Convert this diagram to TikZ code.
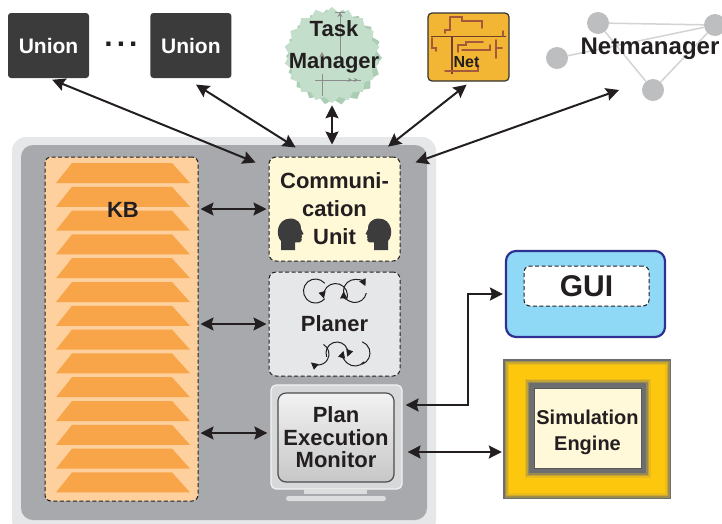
\documentclass[tikz,border=0pt]{standalone}
\usepackage{fontspec}
\setmainfont{Liberation Sans}
\usepackage{xcolor}
\usepackage{tikz}
\usetikzlibrary{shapes.geometric, arrows.meta, positioning, fit, backgrounds}

\definecolor{ink}{HTML}{231F20}
\definecolor{uniongray}{HTML}{3B3B3C}
\definecolor{rimgray}{HTML}{E6E7E8}
\definecolor{framegray}{HTML}{A7A9AC}
\definecolor{kbfill}{HTML}{FDD09D}
\definecolor{kbstripe}{HTML}{F8A549}
\definecolor{commfill}{HTML}{FFF9D8}
\definecolor{planfill}{HTML}{E6E7E8}
\definecolor{headgray}{HTML}{3C3C3C}
\definecolor{bezelgray}{HTML}{D7D8DA}
\definecolor{standgray}{HTML}{DCDDDF}
\definecolor{tasklight}{HTML}{C3DFCB}
\definecolor{taskdark}{HTML}{AACDB4}
\definecolor{netgold}{HTML}{F2B634}
\definecolor{netwire}{HTML}{A25A3A}
\definecolor{netnode}{HTML}{BCBEC0}
\definecolor{netline}{HTML}{D1D3D4}
\definecolor{guiblue}{HTML}{8FD8F6}
\definecolor{guiedge}{HTML}{2E3192}
\definecolor{simgold}{HTML}{FDC70E}
\definecolor{simedge}{HTML}{6D6E70}
\definecolor{simcream}{HTML}{FFF9DA}

\tikzstyle{union} = [rectangle, rounded corners=3pt, minimum width=81pt, minimum height=65pt, fill=uniongray, text=white, font=\bfseries\fontsize{21}{25}\selectfont]
\tikzstyle{bigtext} = [inner sep=0pt, align=center, text=ink, font=\bfseries\fontsize{22}{28}\selectfont]
\tikzstyle{module} = [rectangle, rounded corners=7pt, draw=ink, dash pattern=on 4pt off 2.5pt, line width=1pt, minimum width=131pt, minimum height=104pt, align=center, text=ink, font=\bfseries\fontsize{22}{28}\selectfont]
\tikzstyle{kbbox} = [rectangle, rounded corners=6pt, draw=ink, dash pattern=on 4pt off 2.5pt, line width=1pt, fill=kbfill, minimum width=153pt, minimum height=344pt]
\tikzstyle{bezel} = [rectangle, rounded corners=5pt, draw=white!70!bezelgray, line width=1.2pt, fill=bezelgray, minimum width=131pt, minimum height=104pt]
\tikzstyle{screen} = [rectangle, rounded corners=8pt, draw=black!70, line width=1.2pt, top color=white!95!black, bottom color=black!22, minimum width=116pt, minimum height=89pt, align=center, text=ink, font=\bfseries\fontsize{22}{22.5}\selectfont]
\tikzstyle{starburst} = [star, star points=18, star point ratio=1.13, minimum size=96pt, inner sep=0pt]
\tikzstyle{netbox} = [rectangle, rounded corners=4pt, draw=black!80, line width=1.2pt, fill=netgold, minimum width=81pt, minimum height=68pt]
\tikzstyle{netdot} = [circle, fill=netnode, minimum size=22pt, inner sep=0pt]
\tikzstyle{netlink} = [line width=1.5pt, draw=netline]
\tikzstyle{trace} = [line width=1.8pt, draw=netwire, line cap=round]
\tikzstyle{faintline} = [line width=0.7pt, draw=black!45]
\tikzstyle{guibox} = [rectangle, rounded corners=10pt, draw=guiedge, line width=2.2pt, fill=guiblue, minimum width=159pt, minimum height=86pt]
\tikzstyle{guitag} = [rectangle, rounded corners=6pt, draw=ink, dash pattern=on 4pt off 2.5pt, line width=1pt, fill=white, minimum width=125pt, minimum height=40pt, text=ink, font=\bfseries\fontsize{30}{34}\selectfont]
\tikzstyle{simbox} = [rectangle, fill=simedge, minimum width=168pt, minimum height=140pt]
\tikzstyle{simcore} = [rectangle, draw=black!65, line width=0.8pt, fill=simcream, minimum width=107pt, minimum height=80pt]
\tikzstyle{loopline} = [line width=1pt, draw=ink]
\tikzstyle{looptip} = [loopline, -{Triangle[length=7pt,width=7pt]}]
\tikzstyle{arrow} = [line width=2pt, draw=ink, {Stealth[length=13pt,width=13pt,inset=2pt]}-{Stealth[length=13pt,width=13pt,inset=2pt]}]

\tikzset{profile/.pic={
  \fill[headgray] (-9,-16) -- (-9,-7) .. controls (-15,-1) and (-13,15) .. (0,15.5)
    .. controls (8,15.5) and (11.5,10) .. (11,5) -- (13.5,0) -- (11.5,-1) -- (12,-3)
    -- (11.3,-4.2) -- (11.8,-5.6) .. controls (11.5,-8.5) and (8,-9) .. (5,-8.5) -- (5,-16) -- cycle;
}}

\begin{document}
\begin{tikzpicture}[x=1pt, y=1pt]
\useasboundingbox (0,0) rectangle (722,-523);

% Agent frame
\fill[rimgray, rounded corners=14pt] (12,-137) rectangle (436,-534);
\fill[framegray, rounded corners=12pt] (21,-145) rectangle (427,-520);

% Knowledge base
\node (kb) [kbbox] at (121.5,-329) {};
\foreach \i in {0,...,13}
  \fill[kbstripe] (56,{-183-23.8*\i}) -- (190,{-183-23.8*\i}) -- (172,{-163-23.8*\i}) -- (72,{-163-23.8*\i}) -- cycle;
\node (kbname) [bigtext] at (123,-210) {KB};

% Communication unit
\node (comm) [module, fill=commfill] at (334.5,-209) {Communi-\\cation\\Unit};
\pic at (290,-234) {profile};
\pic[xscale=-1] at (379,-234) {profile};

% Planer
\node (plan) [module, fill=planfill] at (334.5,-324) {Planer};
\draw[loopline] (315.5,-291) ++(40:12) arc[start angle=40, end angle=320, radius=12];
\draw[looptip] (335.5,-295.5) ++(-20:12) arc[start angle=-20, end angle=195, radius=12];
\draw[looptip] (355,-291) ++(200:11.5) arc[start angle=200, end angle=25, radius=11.5];
\draw[looptip] (355,-291) ++(-10:11.5) arc[start angle=-10, end angle=-178, radius=11.5];
\draw[looptip] (318,-354) ++(60:11) arc[start angle=60, end angle=-130, radius=11];
\draw[looptip] (337,-353) ++(200:11) arc[start angle=200, end angle=-20, radius=11];
\draw[looptip] (355,-354) ++(-40:12) arc[start angle=-40, end angle=-195, radius=12];
\draw[loopline] (358,-353) ++(-70:12) arc[start angle=-70, end angle=70, radius=12];

% Plan execution monitor
\node (pem) [bezel] at (336.5,-437) {};
\node (screen) [screen] at (336,-437.5) {Plan\\Execution\\Monitor};
\fill[standgray] (304,-489) rectangle (367,-494);
\fill[standgray, rounded corners=2.5pt] (286,-496) rectangle (386,-501);

% Unions
\node (union1) [union] at (48.5,-45.5) {Union};
\node (union2) [union, right=61pt of union1] {Union};
\node (dots) [bigtext, font=\bfseries\fontsize{30}{30}\selectfont] at (121,-44) {.\kern4pt.\kern4pt.};

% Task manager
\node (taskback) [starburst, fill=taskdark, rotate=9] at (334,-57) {};
\node (task) [starburst, fill=tasklight] at (332,-55) {};
\draw[faintline, -{Stealth[length=5pt,width=5pt]}] (340,-62) -- (340,-12);
\draw[faintline] (335,-12) -- (345,-12);
\draw[faintline] (315,-80) -- (361,-80);
\draw[faintline] (322,-74) -- (322,-96);
\draw[faintline, -{Stealth[length=5pt,width=5pt]}] (322,-66) -- (322,-52);
\draw[faintline, -{Stealth[length=4pt,width=4pt]}] (345,-80) -- (352,-80);
\draw[faintline, -{Stealth[length=4pt,width=4pt]}] (352,-80) -- (358,-80);
\node (taskname) [bigtext, font=\bfseries\fontsize{22}{32}\selectfont] at (334,-47) {Task\\Manager};

% Net
\node (net) [netbox] at (468.5,-47) {};
\draw[line width=0.8pt, draw=netwire!70!black] (431,-36) -- (506,-36);
\draw[line width=1.2pt, draw=netwire!70!black] (452,-36) -- (452,-74);
\draw[trace] (450,-17) -- (462,-17) -- (462,-21) -- (482,-21) -- (482,-28);
\draw[trace] (450,-17) -- (450,-30) -- (445,-30) -- (445,-33);
\draw[trace] (432,-38) -- (432,-48) -- (436,-48) -- (436,-51);
\draw[trace] (458,-52) -- (458,-45) -- (466,-45) -- (466,-42) -- (483,-42);
\draw[trace] (462,-50) -- (490,-50) -- (490,-45);
\draw[trace] (496,-40) -- (496,-58);
\draw[trace] (496,-48) -- (502,-48);
\draw[trace] (503,-31) -- (503,-36);
\draw[trace] (445,-71) -- (478,-71) -- (478,-65);
\node (netname) [bigtext, font=\bfseries\fontsize{16}{18}\selectfont] at (466.5,-62.5) {Net};

% Netmanager
\node (nmA) [netdot] at (598,-23) {};
\node (nmB) [netdot] at (715,-25) {};
\node (nmC) [netdot] at (557,-58) {};
\node (nmD) [netdot] at (653,-90) {};
\begin{scope}[on background layer]
\draw[netlink] (nmA) -- (nmB);
\draw[netlink] (nmC) -- (nmB);
\draw[netlink] (nmA) -- (nmD);
\draw[netlink] (nmB) -- (nmD);
\end{scope}
\node (netmgr) [bigtext, font=\bfseries\fontsize{24}{28}\selectfont] at (650,-49) {Netmanager};
\coordinate (nmport) at (619,-90);

% GUI
\node (gui) [guibox] at (585.5,-294) {};
\node (guitag) [guitag] at (586.5,-286) {GUI};

% Simulation engine
\node (sim) [simbox] at (587,-429) {};
\foreach \d/\p in {1.5/35, 3/65, 4.5/88, 6/100}
  \fill[simgold!\p!simedge] (503+\d,-359-\d) rectangle (671-\d,-499+\d);
\foreach \d/\p in {4.5/85, 3/60, 1.5/30}
  \fill[simgold!\p!simedge] (529-\d,-383+\d) rectangle (646+\d,-473-\d);
\fill[simedge] (529,-383) rectangle (646,-473);
\node (simcore) [simcore] at (587.5,-428) {};
\node (simname) [bigtext, font=\bfseries\fontsize{20}{26}\selectfont] at (587.5,-432) {Simulation\\Engine};

% Arrows
\draw [arrow, shorten <=4pt, shorten >=14pt] (union1.south) -- (comm.148);
\draw [arrow, shorten <=12pt, shorten >=17pt] ([xshift=-5pt]union2.south) -- (comm.115);
\draw [arrow, shorten <=2pt, shorten >=12pt] (task.south) -- (task.south |- comm.north);
\draw [arrow, shorten <=5pt, shorten >=16pt] ([xshift=2pt]net.south) -- (comm.52);
\draw [arrow, shorten >=16pt] (nmport) -- (comm.32);
\draw [arrow, shorten <=2pt, shorten >=2pt] (kb.east |- comm.west) -- (comm.west);
\draw [arrow, shorten <=2pt, shorten >=2pt] (kb.east |- plan.west) -- (plan.west);
\coordinate (pemin) at ([yshift=4pt]pem.west);
\draw [arrow, shorten <=2pt, shorten >=3pt] (kb.east |- pemin) -- (pemin);
\draw [arrow, shorten <=3pt, shorten >=2pt] ([yshift=32pt]pem.east) -- ++(65pt,0) |- (gui.west);
\draw [arrow, shorten <=5pt, shorten >=1pt] ([yshift=-15pt]pem.east) -- ([yshift=-15pt]pem.east -| sim.west);

\end{tikzpicture}
\end{document}
